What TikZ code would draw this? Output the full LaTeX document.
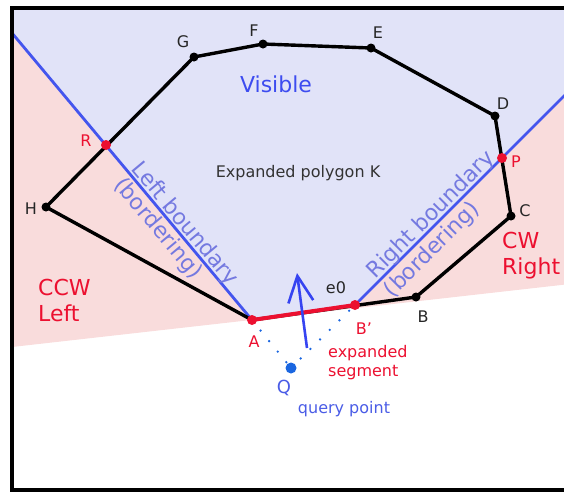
\documentclass[tikz,border=0pt]{standalone}
\usepackage{fontspec}
\setmainfont{DejaVu Sans}
\usetikzlibrary{arrows.meta}
\definecolor{visfill}{HTML}{E1E3F8}
\definecolor{sidefill}{HTML}{F9DCDC}
\definecolor{bndblue}{HTML}{4455EE}
\definecolor{bndtext}{HTML}{7479E0}
\definecolor{hitred}{HTML}{EC1030}
\definecolor{qblue}{HTML}{1A66E0}
\definecolor{qtext}{HTML}{4A5CE6}
\begin{document}
\begin{tikzpicture}[
  x=1pt, y=-1pt,
  vtx/.style={circle,fill=black,inner sep=0pt,minimum size=9pt},
  hit/.style={circle,fill=hitred,inner sep=0pt,minimum size=10pt},
  lbl/.style={font=\fontsize{16}{19}\selectfont,inner sep=0pt,text=black!85},
  redlbl/.style={lbl,text=hitred},
  biglbl/.style={font=\fontsize{22}{26}\selectfont,inner sep=0pt,align=left},
  bndtxt/.style={font=\fontsize{22}{26}\selectfont,text=bndtext,sloped},
  bndline/.style={draw=bndblue,line width=2.8pt},
  polyline/.style={draw=black,line width=3.4pt,line join=round},
  dotline/.style={draw=qblue,line width=2.6pt,line cap=round,
    dash pattern=on 0pt off 13.6pt}
]
\useasboundingbox (0,0) rectangle (564,493);

% corners and boundary ends
\coordinate (fTL) at (12,8);
\coordinate (fTR) at (570,8);
\coordinate (fBL) at (12,490);
\coordinate (fBR) at (570,490);
\coordinate (lTop) at (12,33);
\coordinate (rTop) at (570,90);
\coordinate (sideL) at (12,347);
\coordinate (sideR) at (570,284);

% polygon vertices
\coordinate (vA) at (252,320);
\coordinate (vBp) at (355,305);
\coordinate (vB) at (416,297);
\coordinate (vC) at (511,216);
\coordinate (vP) at (502,158);
\coordinate (vD) at (495,116);
\coordinate (vE) at (371,48);
\coordinate (vF) at (263,44);
\coordinate (vG) at (194,57);
\coordinate (vR) at (106,145);
\coordinate (vH) at (46,207);
\coordinate (vQ) at (291,368);

% regions
\fill[sidefill] (fTL) -- (fTR) -- (sideR) -- (sideL) -- cycle;
\fill[visfill] (fTL) -- (fTR) -- (rTop) -- (vBp) -- (vA) -- (lTop) -- cycle;

% boundaries
\draw[bndline] (lTop) -- (vA);
\draw[bndline] (vBp) -- (rTop);
\draw[draw=bndblue,line width=0.9pt,dash pattern=on 1pt off 4pt,
  shift={(1.8,1.8)}] (vBp) -- (rTop);
\path (lTop) -- (vA)
  node[bndtxt,pos=0.688,above,inner sep=3.5pt,text depth=0pt] (lbTxt) {Left boundary}
  node[bndtxt,pos=0.652,below,inner sep=3pt] (lbSub) {(bordering)};
\path (vBp) -- (rTop)
  node[bndtxt,pos=0.386,above,inner sep=3.5pt,text depth=0pt] (rbTxt) {Right boundary}
  node[bndtxt,pos=0.308,below,inner sep=5pt] (rbSub) {(bordering)};

% polygon K
\draw[polyline] (vA) -- (vB) -- (vC) -- (vD) -- (vE) -- (vF) -- (vG)
  -- (vH) -- cycle;
\draw[hitred,line width=4pt] (vA) -- (vBp);

% query point
\draw[dotline] (vA) -- (vQ);
\draw[dotline] (vQ) -- (vBp);
\coordinate (arS) at (307,348);
\coordinate (arT) at (297,273);
\draw[bndblue!80!blue,line width=2.6pt,
  -{Straight Barb[length=26pt,width=25pt,line width=2.6pt]}] (arS) -- (arT);

% points
\foreach \v in {vB,vC,vD,vE,vF,vG,vH}
  \node[vtx] (d\v) at (\v) {};
\foreach \v in {vA,vBp,vR,vP}
  \node[hit] (d\v) at (\v) {};
\node[circle,fill=qblue,inner sep=0pt,minimum size=11pt] (dvQ) at (vQ) {};

% labels
\node[lbl] (tG) at (183,42) {G};
\node[lbl] (tF) at (254,31) {F};
\node[lbl] (tE) at (378,33) {E};
\node[lbl] (tD) at (503,104) {D};
\node[lbl] (tC) at (525,211) {C};
\node[lbl] (tB) at (423,317) {B};
\node[lbl] (tH) at (31,209) {H};
\node[lbl] (tE0) at (336,288) {e0};
\node[redlbl] (tP) at (516,162) {P};
\node[redlbl] (tR) at (86,141) {R};
\node[redlbl] (tA) at (254,342) {A};
\node[redlbl] (tBp) at (364,329) {B'};
\node[redlbl,anchor=west,align=left] (tSeg) at (328,363) {expanded\\segment};
\node[lbl,text=qtext,font=\fontsize{18}{21}\selectfont] (tQ) at (284,388) {Q};
\node[lbl,text=qtext] (tQp) at (344,409) {query point};
\node[lbl,text=black!80] (tK) at (298,173) {Expanded polygon K};
\node[biglbl,text=bndblue!90!blue] (tVis) at (276,84) {Visible};
\node[biglbl,text=hitred,anchor=west] (tCCW) at (38,300) {CCW\\Left};
\node[biglbl,text=hitred,anchor=west] (tCW) at (502,256) {CW\\Right};

% frame
\draw[line width=3.5pt] (fTR) -- (fTL) -- (fBL) -- (fBR);
\end{tikzpicture}
\end{document}
